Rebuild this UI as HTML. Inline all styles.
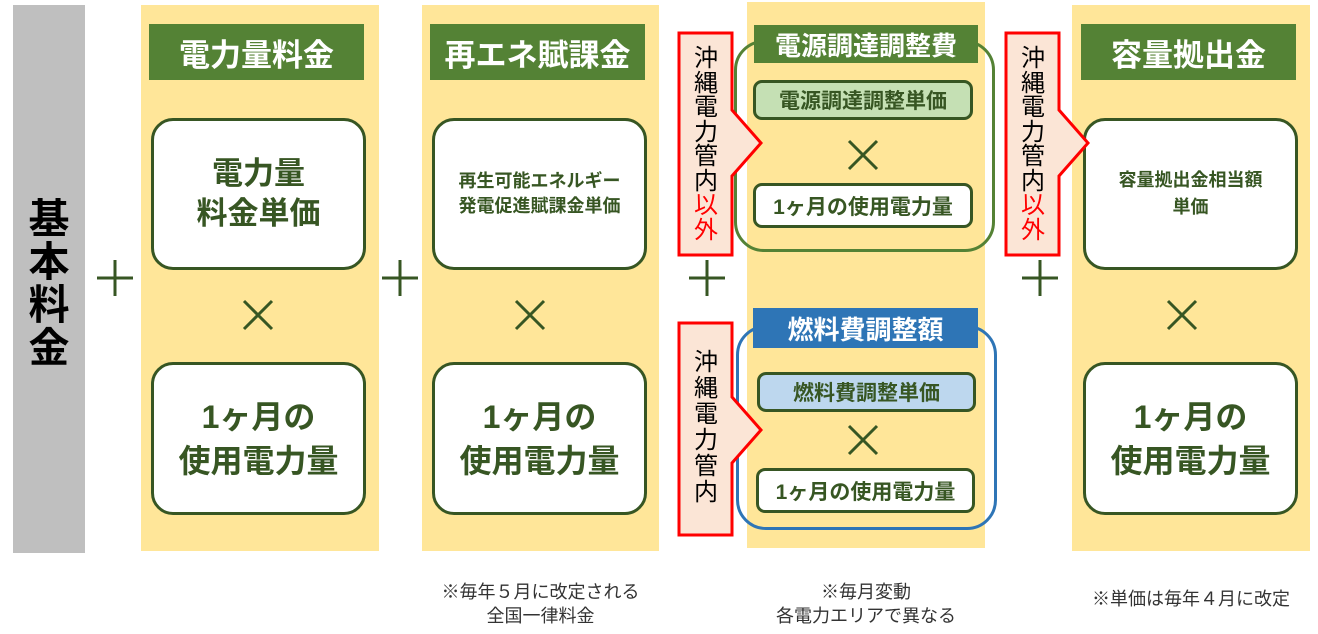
<!DOCTYPE html>
<html><head><meta charset="utf-8"><style>
body{margin:0;width:1318px;height:634px;background:#fff;position:relative;overflow:hidden;font-family:"Liberation Sans","Noto Sans CJK JP",sans-serif}
div{position:absolute;box-sizing:border-box}
.pan{background:#FFE699}
.hd{background:#548235;color:#fff;font-weight:bold;font-size:31px;display:flex;align-items:center;justify-content:center;white-space:nowrap}
.bx{background:#fff;border:3px solid #375623;border-radius:22px;color:#375623;font-weight:bold;display:flex;align-items:center;justify-content:center;text-align:center}
.sb{border:3px solid #375623;border-radius:9px;color:#375623;font-weight:bold;font-size:21px;display:flex;align-items:center;justify-content:center;white-space:nowrap}
.v{color:#000;font-size:24px;text-align:center;width:40px;line-height:24.5px}
.note{font-size:18px;color:#333;text-align:center;line-height:24px;white-space:nowrap}
</style></head><body>
<div style="left:13px;top:5px;width:72px;height:548px;background:#BFBFBF"></div>
<div style="left:13px;top:198px;width:72px;text-align:center;font-size:41px;font-weight:bold;line-height:43px">基<br>本<br>料<br>金</div>

<div class="pan" style="left:141px;top:5px;width:238px;height:546px"></div>
<div class="hd" style="left:149px;top:24px;width:215px;height:56px">電力量料金</div>
<div class="bx" style="left:151px;top:118px;width:215px;height:152px;font-size:31px;line-height:40px">電力量<br>料金単価</div>
<div class="bx" style="left:151px;top:362px;width:215px;height:153px;font-size:32px;line-height:44px">1ヶ月の<br>使用電力量</div>

<div class="pan" style="left:422px;top:5px;width:237px;height:546px"></div>
<div class="hd" style="left:430px;top:24px;width:215px;height:56px">再エネ賦課金</div>
<div class="bx" style="left:432px;top:118px;width:215px;height:152px;font-size:18px;line-height:25px">再生可能エネルギー<br>発電促進賦課金単価</div>
<div class="bx" style="left:432px;top:362px;width:215px;height:153px;font-size:32px;line-height:44px">1ヶ月の<br>使用電力量</div>
<div class="note" style="left:422px;top:580px;width:237px">※毎年５月に改定される<br>全国一律料金</div>

<div class="pan" style="left:747px;top:2px;width:238px;height:546px"></div>
<div style="left:734px;top:40px;width:261px;height:212px;border:3px solid #548235;border-radius:30px"></div>
<div class="hd" style="left:754px;top:25px;width:224px;height:38px;font-size:26px">電源調達調整費</div>
<div class="sb" style="left:753px;top:80px;width:220px;height:40px;background:#C5E0B4">電源調達調整単価</div>
<div class="sb" style="left:753px;top:183px;width:220px;height:45px;background:#fff">1ヶ月の使用電力量</div>

<div style="left:736px;top:325px;width:261px;height:205px;border:3px solid #2E75B6;border-radius:30px"></div>
<div class="hd" style="left:753px;top:308px;width:225px;height:40px;font-size:26px;background:#2E75B6">燃料費調整額</div>
<div class="sb" style="left:757px;top:372px;width:219px;height:40px;background:#BDD7EE">燃料費調整単価</div>
<div class="sb" style="left:756px;top:468px;width:219px;height:45px;background:#fff">1ヶ月の使用電力量</div>
<div class="note" style="left:747px;top:580px;width:238px">※毎月変動<br>各電力エリアで異なる</div>

<div class="pan" style="left:1072px;top:5px;width:238px;height:546px"></div>
<div class="hd" style="left:1081px;top:24px;width:215px;height:56px">容量拠出金</div>
<div class="bx" style="left:1083px;top:118px;width:215px;height:152px;font-size:18px;line-height:27px">容量拠出金相当額<br>単価</div>
<div class="bx" style="left:1083px;top:362px;width:215px;height:153px;font-size:32px;line-height:44px">1ヶ月の<br>使用電力量</div>
<div class="note" style="left:1072px;top:587px;width:238px">※単価は毎年４月に改定</div>

<svg style="position:absolute;left:0;top:0" width="1318" height="634">
<g stroke="#375623" stroke-width="3">
<line x1="97" y1="278" x2="133" y2="278"/><line x1="115" y1="260" x2="115" y2="296"/>
<line x1="382" y1="278" x2="418" y2="278"/><line x1="400" y1="260" x2="400" y2="296"/>
<line x1="689" y1="278" x2="725" y2="278"/><line x1="707" y1="260" x2="707" y2="296"/>
<line x1="1022" y1="278" x2="1058" y2="278"/><line x1="1040" y1="260" x2="1040" y2="296"/>
<path d="M244 301 L272 329 M272 301 L244 329"/>
<path d="M516 301 L544 329 M544 301 L516 329"/>
<path d="M1168 301 L1196 329 M1196 301 L1168 329"/>
<path d="M849 141 L877 169 M877 141 L849 169"/>
<path d="M849 426 L877 454 M877 426 L849 454"/>
</g>
<g fill="#FBE5D6" stroke="#FF0000" stroke-width="3">
<polygon points="679,33 732,33 732,110 761,143 732,176 732,255 679,255"/>
<polygon points="679,323 732,323 732,397 761,430 732,463 732,535 679,535"/>
<polygon points="1006,33 1059,33 1059,110 1088,143 1059,176 1059,255 1006,255"/>
</g>
</svg>
<div class="v" style="left:686px;top:47px">沖<br>縄<br>電<br>力<br>管<br>内<br><span style="color:#f00">以<br>外</span></div>
<div class="v" style="left:686px;top:350px;line-height:26px">沖<br>縄<br>電<br>力<br>管<br>内</div>
<div class="v" style="left:1013px;top:47px">沖<br>縄<br>電<br>力<br>管<br>内<br><span style="color:#f00">以<br>外</span></div>
</body></html>
